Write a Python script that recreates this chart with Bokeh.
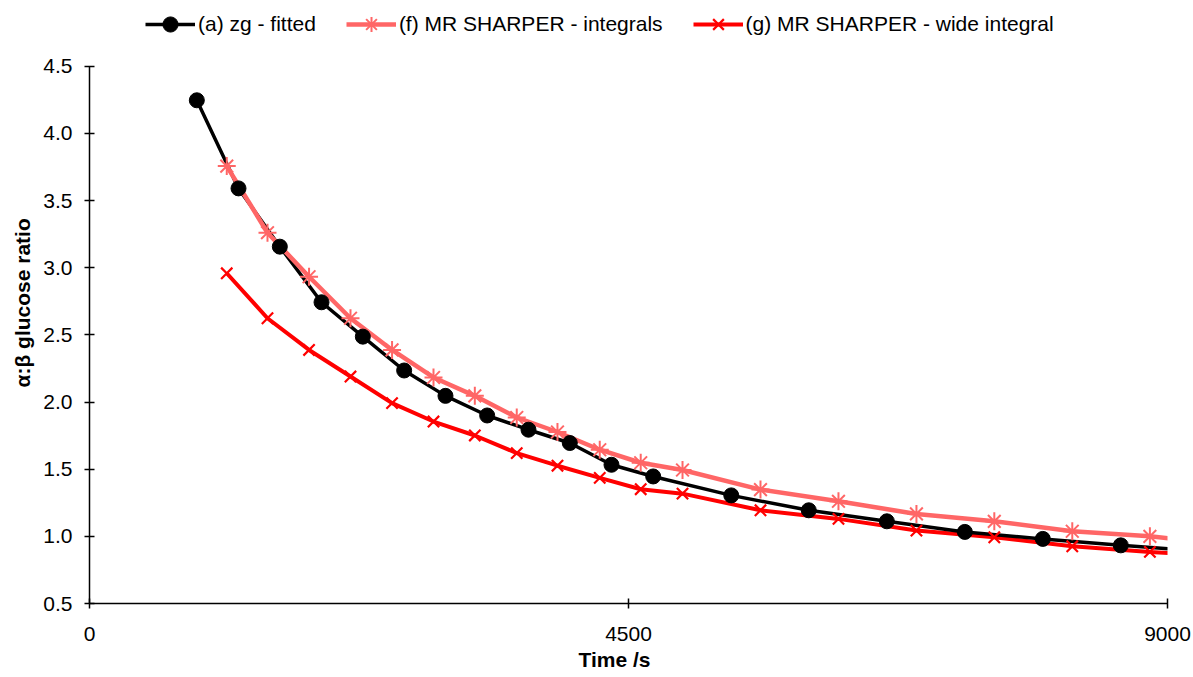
from bokeh.plotting import figure
from bokeh.models import Range1d, FixedTicker, Legend, LegendItem, NumeralTickFormatter, Title
from bokeh.embed import file_html
from bokeh.resources import INLINE

# ---- data ----
t_zg = [896, 1244, 1589, 1937, 2282, 2627, 2972, 3320, 3665, 4010, 4358, 4706,
        5358, 6005, 6657, 7308, 7959, 8610, 9261]
r_zg = [4.247, 3.591, 3.157, 2.743, 2.487, 2.235, 2.046, 1.900, 1.794, 1.695, 1.533, 1.446,
        1.305, 1.194, 1.112, 1.033, 0.981, 0.933, 0.89]

t_mr = [1146, 1486, 1833, 2179, 2526, 2872, 3217, 3567, 3907, 4260, 4602, 4951,
        5602, 6253, 6904, 7554, 8205, 8853, 9504]
r_int = [3.757, 3.261, 2.933, 2.624, 2.388, 2.183, 2.046, 1.885, 1.777, 1.645, 1.548, 1.494,
         1.348, 1.261, 1.167, 1.112, 1.038, 1.000, 0.94]
r_wide = [2.959, 2.624, 2.388, 2.190, 1.992, 1.855, 1.751, 1.620, 1.526, 1.435, 1.351, 1.318,
          1.194, 1.130, 1.043, 0.993, 0.926, 0.884, 0.85]

x_ticks = [0, 4500, 9000]
y_ticks = [0.5, 1.0, 1.5, 2.0, 2.5, 3.0, 3.5, 4.0, 4.5]

labels = ["(a) zg - fitted", "(f) MR SHARPER - integrals", "(g) MR SHARPER - wide integral"]
x_title = "Time /s"
y_title = "α:β glucose ratio"

FONT = "Liberation Sans"
PINK = "#FF6666"
RED = "#FF0000"

# the frame reaches the top of the canvas so that the legend sits inside it;
# the y axis line itself is bounded to 0.5 .. 4.5
p = figure(width=1193, height=677, output_backend="svg", toolbar_location=None,
           x_range=Range1d(0, 9000), y_range=Range1d(0.5, 4.99),
           min_border_left=89, min_border_right=26, min_border_top=0, min_border_bottom=74)
p.outline_line_color = None
p.xgrid.visible = False
p.ygrid.visible = False
p.background_fill_color = "white"
p.border_fill_color = "white"

# lines
l_wide = p.line(t_mr, r_wide, line_color=RED, line_width=4)
l_zg = p.line(t_zg, r_zg, line_color="black", line_width=3.5)
l_int = p.line(t_mr, r_int, line_color=PINK, line_width=4.5)

# markers
m_zg = p.scatter(t_zg, r_zg, marker="circle", size=15, fill_color="black", line_color="black")
m_int = p.scatter(t_mr, r_int, marker="asterisk", size=18, line_color=PINK, line_width=2)
m_wide = p.scatter(t_mr, r_wide, marker="x", size=16, line_color=RED, line_width=2.2)

for ax in (p.xaxis[0], p.yaxis[0]):
    ax.axis_line_color = "black"
    ax.axis_line_width = 1.5
    ax.major_tick_line_color = "black"
    ax.major_tick_line_width = 1.5
    ax.major_tick_in = 5
    ax.major_tick_out = 5
    ax.minor_tick_line_color = None
    ax.major_label_text_font = FONT
    ax.major_label_text_font_size = "21px"
    ax.major_label_text_color = "black"

p.yaxis.bounds = (0.5, 4.5)
p.xaxis.ticker = FixedTicker(ticks=x_ticks)
p.yaxis.ticker = FixedTicker(ticks=y_ticks)
p.yaxis.formatter = NumeralTickFormatter(format="0.0")
p.xaxis.major_label_standoff = 18
p.yaxis.major_label_standoff = 12

xt = Title(text=x_title, align="left", offset=489, standoff=4,
           text_font=FONT, text_font_size="21px", text_font_style="bold", text_color="black")
yt = Title(text=y_title, align="left", offset=216, standoff=14,
           text_font=FONT, text_font_size="21px", text_font_style="bold", text_color="black")
p.add_layout(xt, "below")
p.add_layout(yt, "left")

legend = Legend(items=[
    LegendItem(label=labels[0], renderers=[l_zg, m_zg]),
    LegendItem(label=labels[1], renderers=[l_int, m_int]),
    LegendItem(label=labels[2], renderers=[l_wide, m_wide]),
], orientation="horizontal", location=(56, 560))
legend.glyph_width = 50
legend.glyph_height = 38
legend.label_standoff = 3
legend.spacing = 30
legend.padding = 0
legend.margin = 0
legend.border_line_alpha = 0
legend.background_fill_alpha = 0
legend.label_text_font = FONT
legend.label_text_font_size = "21px"
legend.label_text_color = "black"
legend.label_height = 20
p.add_layout(legend)

open("out.html", "w").write(file_html(p, INLINE))
